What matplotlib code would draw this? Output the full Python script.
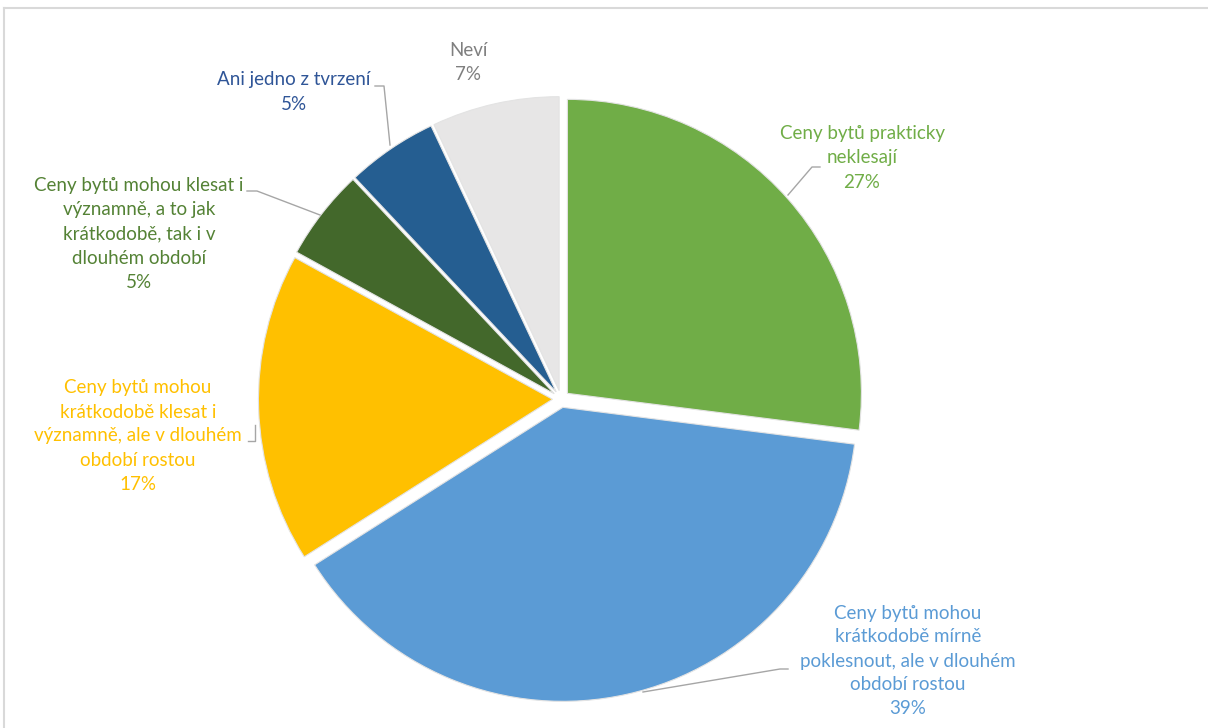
import matplotlib.pyplot as plt
from matplotlib.lines import Line2D

plt.rcParams['font.family'] = ['Lato', 'DejaVu Sans']

# Odpovědi respondentů (podíl v %)
categories = [
    "Ceny bytů prakticky\nneklesají",
    "Ceny bytů mohou\nkrátkodobě mírně\npoklesnout, ale v dlouhém\nobdobí rostou",
    "Ceny bytů mohou\nkrátkodobě klesat i\nvýznamně, ale v dlouhém\nobdobí rostou",
    "Ceny bytů mohou klesat i\nvýznamně, a to jak\nkrátkodobě, tak i v\ndlouhém období",
    "Ani jedno z tvrzení",
    "Neví",
]
shares = [27, 39, 17, 5, 5, 7]
colors = ["#70AD47", "#5B9BD5", "#FFC000", "#43682B", "#255E91", "#E7E6E6"]
label_colors = ["#70AD47", "#5B9BD5", "#FFC000", "#548235", "#2F5597", "#7F7F7F"]

W, H = 1208, 728
CX, CY, R = 561, 399, 294


def px(x, y):
    """pixel position -> data units (pie radius = 1)"""
    return (x - CX) / R, (CY - y) / R


fig = plt.figure(figsize=(W / 100, H / 100), dpi=100)
ax = fig.add_axes([0, 0, 1, 1])

ax.pie(shares, colors=colors, startangle=90, counterclock=False,
       radius=1, explode=[0.029] * len(shares),
       wedgeprops=dict(edgecolor="#E3E3E3", linewidth=0.8))

# popisky a vodicí čáry
label_pos = [(862, 158), (908, 661), (138, 436), (139, 234), (294, 92), (468, 62)]
leaders = [
    [(788, 195), (812, 167), (820, 167)],
    [(643, 692), (780, 669), (788, 669)],
    [(255, 425), (255, 441), (248, 441)],
    [(320, 215), (257, 191), (247, 191)],
    [(390, 145), (384, 86), (375, 86)],
    None,
]

for cat, val, col, (lx, ly), leader in zip(categories, shares, label_colors,
                                            label_pos, leaders):
    x, y = px(lx, ly)
    ax.text(x, y, f"{cat}\n{val}%", color=col, fontsize=13.5, ha="center",
            va="center", multialignment="center", linespacing=1.5)
    if leader:
        pts = [px(a, b) for a, b in leader]
        ax.add_line(Line2D([p[0] for p in pts], [p[1] for p in pts],
                           color="#A6A6A6", linewidth=1.0))

# rámeček grafu
fx0, fy0 = px(4, 8)
fx1, fy1 = px(W + 10, H + 10)
ax.add_line(Line2D([fx0, fx1], [fy0, fy0], color="#D9D9D9", linewidth=1.5))
ax.add_line(Line2D([fx0, fx0], [fy0, fy1], color="#D9D9D9", linewidth=1.5))

x0, y0 = px(0, H)
x1, y1 = px(W, 0)
ax.set_xlim(x0, x1)
ax.set_ylim(y0, y1)
ax.set_aspect("auto")
ax.axis("off")

fig.savefig("out.png", dpi=100)
